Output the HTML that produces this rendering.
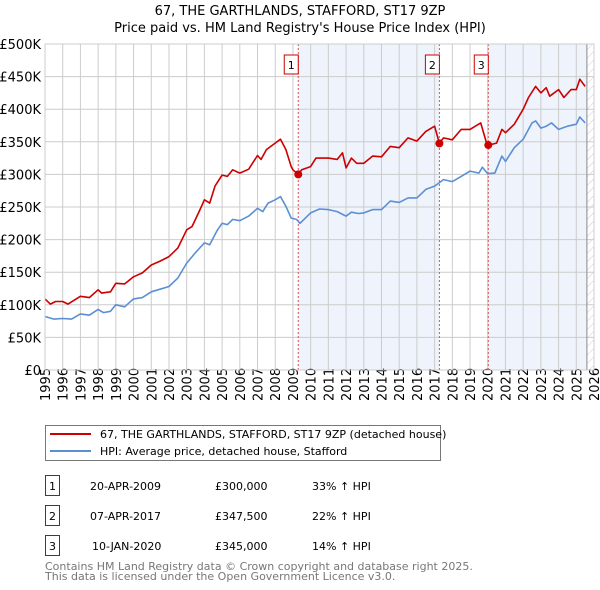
<!DOCTYPE html>
<html><head><meta charset="utf-8"><style>
body{margin:0;background:#fff;font-family:"Liberation Sans","DejaVu Sans",sans-serif;}
#wrap{position:relative;width:600px;height:590px;overflow:hidden;}
svg text{font-family:"DejaVu Sans","Liberation Sans",sans-serif;}
</style></head><body>
<div id="wrap">
<svg id="chart" width="600" height="590"></svg>
</div>
<script>
const yTicks=[0,50,100,150,200,250,300,350,400,450,500];
const years=[1995,1996,1997,1998,1999,2000,2001,2002,2003,2004,2005,2006,2007,2008,2009,2010,2011,2012,2013,2014,2015,2016,2017,2018,2019,2020,2021,2022,2023,2024,2025,2026];
const hpiT=[1995,1995.5,1996,1996.5,1997,1997.5,1998,1998.3,1998.7,1999,1999.5,2000,2000.5,2001,2001.5,2002,2002.5,2003,2003.5,2004,2004.3,2004.7,2005,2005.3,2005.6,2006,2006.5,2007,2007.3,2007.6,2008,2008.3,2008.6,2008.9,2009.2,2009.4,2010,2010.5,2011,2011.5,2012,2012.3,2012.7,2013,2013.5,2014,2014.5,2015,2015.5,2016,2016.5,2017,2017.5,2018,2018.5,2019,2019.5,2019.7,2020,2020.4,2020.8,2021,2021.5,2022,2022.5,2022.7,2023,2023.3,2023.6,2024,2024.5,2025,2025.2,2025.5];
const hpiV=[82,78,79,78,86,84,93,88,90,100,97,109,111,120,124,128,141,164,180,195,192,213,225,223,231,229,236,248,243,256,261,266,251,233,231,225,241,247,246,243,236,242,240,241,246,246,259,257,264,264,277,282,292,289,297,305,302,311,301,302,328,320,341,354,379,382,371,374,379,369,374,377,388,379];
const priceT=[1995,1995.3,1995.6,1996,1996.3,1997,1997.5,1998,1998.2,1998.7,1999,1999.5,2000,2000.5,2001,2001.5,2002,2002.5,2003,2003.3,2003.7,2004,2004.3,2004.6,2005,2005.3,2005.6,2006,2006.5,2007,2007.2,2007.5,2008,2008.3,2008.6,2008.9,2009.0,2009.3,2009.5,2010,2010.3,2011,2011.5,2011.8,2012,2012.3,2012.6,2013,2013.5,2014,2014.5,2015,2015.5,2016,2016.5,2017,2017.27,2017.5,2018,2018.5,2019,2019.6,2019.9,2020.03,2020.5,2020.8,2021,2021.5,2022,2022.3,2022.7,2023,2023.3,2023.5,2024,2024.3,2024.7,2025,2025.2,2025.5];
const priceV=[109,101,105,105,101,113,111,123,118,120,133,132,143,149,161,167,174,187,215,220,243,261,256,282,299,297,307,302,308,329,323,338,348,354,338,312,307,300,307,312,325,325,323,333,310,325,317,317,328,327,343,341,356,351,366,374,347.5,356,353,369,369,379,351,345,348,369,364,377,400,418,435,425,433,420,430,418,430,430,446,435];
const saleT=[2009.3,2017.27,2020.03];
const saleV=[300,347.5,345];
const saleLbl=["1","2","3"];

const X0=45,X1=594,Y0=370,Y1=44;
const xs=t=>X0+(t-1995)/(2026-1995)*(X1-X0);
const ys=v=>Y0-v/500*(Y0-Y1);
const svg=document.getElementById('chart');
const NS='http://www.w3.org/2000/svg';
function mk(tag,attrs,parent){const e=document.createElementNS(NS,tag);for(const k in attrs)e.setAttribute(k,attrs[k]);(parent||svg).appendChild(e);return e;}

let defs=mk('defs',{});
let pat=mk('pattern',{id:'hatch',width:6,height:6,patternUnits:'userSpaceOnUse',patternTransform:'rotate(45)'},defs);
mk('line',{x1:0,y1:0,x2:0,y2:6,stroke:'#ccc','stroke-width':1},pat);

let t=mk('text',{x:300,y:15,'text-anchor':'middle','font-size':13});t.textContent='67, THE GARTHLANDS, STAFFORD, ST17 9ZP';


t=mk('text',{x:300,y:32,'text-anchor':'middle','font-size':13});t.textContent="Price paid vs. HM Land Registry's House Price Index (HPI)";



// shading
let s=mk('rect',{x:xs(saleT[0]),y:Y1,width:xs(saleT[1])-xs(saleT[0]),height:Y0-Y1,fill:'#eef3fc'});


s=mk('rect',{x:xs(saleT[2]),y:Y1,width:xs(2025.6)-xs(saleT[2]),height:Y0-Y1,fill:'#eef3fc'});


s=mk('rect',{x:xs(2025.6),y:Y1,width:X1-xs(2025.6),height:Y0-Y1,fill:'url(#hatch)'});



// grid
yTicks.forEach(v=>{
 let l=mk('line',{x1:X0,x2:X1,y1:ys(v),y2:ys(v),stroke:'#ccc','stroke-width':1});
 
 
 let tx=mk('text',{x:X0-4,y:ys(v)+5,'text-anchor':'end','font-size':13});
 tx.textContent=v===0?'£0':'£'+v+'K';
 
 
});
years.forEach(yr=>{
 let l=mk('line',{x1:xs(yr),x2:xs(yr),y1:Y1,y2:Y0,stroke:'#ccc','stroke-width':1});
 
 
 let tx=mk('text',{x:0,y:0,'font-size':13,transform:`translate(${xs(yr)+5},${Y0+31}) rotate(-90)`});
 tx.textContent=yr;
 
 
});
let ln=mk('line',{x1:xs(2025.6),x2:xs(2025.6),y1:Y1,y2:Y0,stroke:'#888','stroke-width':1});



// sale vlines
saleT.forEach((st,i)=>{
 let l=mk('line',{x1:xs(st),x2:xs(st),y1:Y1,y2:Y0,stroke:'#e05050','stroke-width':1,'stroke-dasharray':'2,2'});
 
 
 let r=mk('rect',{x:xs(st)-19+5,y:55,width:14,height:19,fill:'#fff',stroke:'#c00','stroke-width':1});
 r.setAttribute('x',xs(st)-7-(i===0?0:0)-7);
 
 
 let tx=mk('text',{x:xs(st)-7,y:69,'text-anchor':'middle','font-size':11});
 tx.textContent=saleLbl[i];
 
 
});

function path(T,V){return T.map((tt,i)=>(i?'L':'M')+xs(tt).toFixed(1)+','+ys(V[i]).toFixed(1)).join('');}
let p=mk('path',{d:path(hpiT,hpiV),fill:'none',stroke:'#5b8fd4','stroke-width':1.6,'stroke-linejoin':'round'});


p=mk('path',{d:path(priceT,priceV),fill:'none',stroke:'#cc0000','stroke-width':1.6,'stroke-linejoin':'round'});


saleT.forEach((st,i)=>{
 let c=mk('circle',{cx:xs(st),cy:ys(saleV[i]),r:4,fill:'#cc0000'});
 
 
});
let fr=mk('rect',{x:X0,y:Y1,width:X1-X0,height:Y0-Y1,fill:'none',stroke:'#ccc'});



// legend
let lg=mk('rect',{x:45.5,y:425.5,width:395,height:35,fill:'#fff',stroke:'#777'});


let l1=mk('line',{x1:50,x2:91,y1:434,y2:434,stroke:'#cc0000','stroke-width':2});


let l2=mk('line',{x1:50,x2:91,y1:451,y2:451,stroke:'#5b8fd4','stroke-width':2});


t=mk('text',{x:100,y:438,'font-size':11});t.textContent='67, THE GARTHLANDS, STAFFORD, ST17 9ZP (detached house)';


t=mk('text',{x:100,y:455,'font-size':11});t.textContent='HPI: Average price, detached house, Stafford';



// table
const rowsD=['20-APR-2009','07-APR-2017','10-JAN-2020'];
const rowsP=['£300,000','£347,500','£345,000'];
const rowsH=['33% ↑ HPI','22% ↑ HPI','14% ↑ HPI'];
[0,1,2].forEach(i=>{
 const y=475+i*30;
 let r=mk('rect',{x:45.5,y:y+0.5,width:14,height:20,fill:'#fff',stroke:'#c00'});
 
 
 let a=mk('text',{x:52.5,y:y+15,'text-anchor':'middle','font-size':11});a.textContent=String(i+1);
 
 
 a=mk('text',{x:i===2?92:90,y:y+15,'font-size':11});a.textContent=rowsD[i];
 
 
 a=mk('text',{x:215,y:y+15,'font-size':11});a.textContent=rowsP[i];
 
 
 a=mk('text',{x:312,y:y+15,'font-size':11});a.textContent=rowsH[i];
 
 
});
t=mk('text',{x:45,y:570,'font-size':11,fill:'#777'});t.textContent='Contains HM Land Registry data © Crown copyright and database right 2025.';


t=mk('text',{x:45,y:580,'font-size':11,fill:'#777'});t.textContent='This data is licensed under the Open Government Licence v3.0.';


</script>
</body></html>
